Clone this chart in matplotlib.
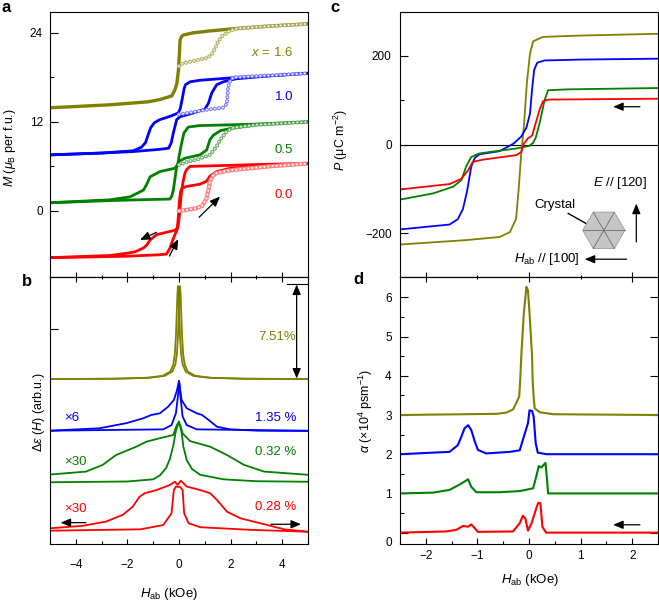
import numpy as np
import matplotlib
matplotlib.use("Agg")
import matplotlib.pyplot as plt
from matplotlib.patches import RegularPolygon

plt.rcParams['font.family'] = ['Liberation Sans', 'DejaVu Sans']
plt.rcParams['font.size'] = 9
plt.rcParams['mathtext.fontset'] = 'custom'
plt.rcParams['mathtext.rm'] = 'Liberation Sans'
plt.rcParams['mathtext.it'] = 'Liberation Sans:italic'
plt.rcParams['mathtext.bf'] = 'Liberation Sans:bold'
plt.rcParams['lines.scale_dashes'] = False
plt.rcParams['axes.linewidth'] = 0.8

olive, blue, green, red = '#808000', '#0000ff', '#008000', '#ff0000'

# ---- panel a : M(H) loops (kOe, muB per f.u., curves offset) ----
a_olive_h = [-5, -2.67, -1.2, -0.74, -0.28, -0.16, -0.08, -0.02, 0.02, 0.04, 0.1, 0.17, 0.56, 1.2, 2.3, 3.5, 5]
a_olive_m = [13.9, 14.3, 14.7, 15.0, 15.5, 16.3, 17.2, 19.0, 21.5, 23.0, 23.5, 23.7, 24.0, 24.25, 24.6, 24.9, 25.2]
a_olive_vh = [0, 0.1, 0.43, 0.8, 1.07, 1.25, 1.4, 1.5, 1.65, 1.98, 2.3, 3.5, 5]
a_olive_vm = [19.5, 19.8, 20.1, 20.4, 20.6, 21.0, 21.9, 22.7, 23.5, 24.3, 24.6, 24.9, 25.2]

a_blue_up_h = [-5, -3, -1.77, -0.74, -0.4, -0.3, -0.22, -0.09, 0.04, 0.56, 1.0, 1.14, 1.27, 1.46, 1.72, 2.2, 3.5, 5]
a_blue_up_m = [7.55, 7.8, 8.0, 8.3, 8.45, 9.2, 10.5, 12.3, 12.7, 13.2, 13.7, 14.5, 15.9, 17.0, 17.4, 17.8, 18.2, 18.55]
a_blue_dn_h = [5, 3.5, 2.3, 0.8, 0.43, 0.25, 0.2, 0.12, 0.05, -0.03, -0.3, -0.74, -0.95, -1.1, -1.2, -1.3, -1.45, -1.77, -3, -5]
a_blue_dn_m = [18.55, 18.2, 18.0, 17.6, 17.4, 17.0, 16.5, 15.0, 13.8, 13.2, 12.8, 12.3, 11.9, 11.2, 10.2, 9.2, 8.6, 8.1, 7.8, 7.55]
a_blue_vh = [0, 0.5, 1.2, 1.7, 1.85, 1.88, 1.9, 1.95, 2.1, 3.5, 5]
a_blue_vm = [13.0, 13.3, 13.7, 13.9, 14.4, 15.5, 16.5, 17.3, 18.0, 18.25, 18.55]

a_green_up_h = [-5, -2.67, -1.0, -0.35, -0.28, -0.22, -0.15, -0.09, 0.0, 0.23, 0.81, 1.07, 1.2, 1.33, 1.6, 1.98, 3, 5]
a_green_up_m = [1.1, 1.4, 1.55, 1.6, 2.0, 2.8, 4.5, 6.0, 6.7, 7.1, 7.55, 8.2, 9.6, 10.2, 10.8, 11.1, 11.6, 12.0]
a_green_dn_h = [5, 3, 2, 0.81, 0.36, 0.19, 0.1, 0.0, -0.05, -0.16, -0.74, -1.12, -1.25, -1.38, -1.9, -2.67, -5]
a_green_dn_m = [12.0, 11.7, 11.6, 11.5, 11.3, 10.5, 9.1, 7.3, 6.2, 5.75, 5.3, 4.6, 3.6, 2.8, 1.9, 1.5, 1.1]
a_green_vh = [0, 0.3, 0.68, 1.2, 1.35, 1.46, 1.6, 1.85, 2.1, 3, 5]
a_green_vm = [6.2, 6.6, 6.9, 7.55, 8.2, 8.7, 9.6, 10.7, 11.2, 11.6, 12.0]

a_red_up_h = [-5, -2, -0.74, -0.48, -0.35, -0.25, -0.16, -0.08, -0.03, 0.02, 0.06, 0.12, 0.3, 0.81, 1.07, 1.2, 1.46, 1.98, 3, 5]
a_red_up_m = [-6.3, -6.1, -5.9, -5.8, -5.0, -4.0, -3.2, -2.6, -1.0, 1.5, 2.6, 3.1, 3.3, 3.6, 4.0, 4.7, 5.3, 5.75, 6.0, 6.4]
a_red_dn_h = [5, 3, 1.0, 0.43, 0.3, 0.23, 0.15, 0.08, 0.03, -0.01, -0.05, -0.16, -0.87, -1.12, -1.25, -1.38, -1.7, -2.03, -2.67, -5]
a_red_dn_m = [6.4, 6.25, 6.05, 6.0, 5.6, 5.1, 3.8, 2.0, 0.0, -1.5, -2.3, -2.6, -3.2, -3.9, -4.6, -5.0, -5.5, -5.7, -6.0, -6.3]
a_red_vh = [0, 0.3, 0.68, 0.9, 1.07, 1.14, 1.2, 1.3, 1.46, 1.85, 2.3, 3.5, 5]
a_red_vm = [0.0, 0.15, 0.36, 0.7, 1.7, 2.8, 4.0, 4.7, 5.1, 5.4, 5.6, 6.0, 6.4]

a_labels = ['$x$ = 1.6', '1.0', '0.5', '0.0']
a_label_m = [21.3, 15.4, 8.2, 2.2]

# ---- panel b : dielectric change (arb. u., offset) ----
b_olive1_h = [-5, -2.54, -1.24, -0.64, -0.34, -0.22, -0.16, -0.12, -0.09, -0.06, -0.04, -0.02, 0.01, 0.04, 0.08, 0.14, 0.26, 0.56, 1.16, 2.46, 5]
b_olive2_h = [-5, -2.46, -1.16, -0.56, -0.26, -0.14, -0.08, -0.04, -0.01, 0.02, 0.04, 0.06, 0.09, 0.12, 0.16, 0.22, 0.34, 0.64, 1.24, 2.54, 5]
b_olive_v = [61.8, 61.95, 62.3, 63.0, 64.6, 67.3, 71.3, 77.8, 85.8, 93.8, 96.6, 93.8, 85.8, 77.8, 71.3, 67.3, 64.6, 63.0, 62.3, 61.95, 61.8]

b_blue1_h = [-5, -3.09, -2.05, -1.4, -1.07, -0.74, -0.42, -0.2, -0.08, 0.0, 0.1, 0.3, 0.69, 0.89, 1.15, 1.47, 1.99, 3.04, 5]
b_blue1_v = [42.5, 43.4, 45.3, 47.1, 48.4, 49.0, 51.5, 54.0, 57.5, 61.2, 54.0, 50.9, 49.0, 48.4, 46.5, 44.0, 43.0, 42.5, 42.4]
b_blue2_h = [-5, -0.61, -0.29, -0.12, -0.04, 0.01, 0.07, 0.14, 0.3, 0.69, 5]
b_blue2_v = [42.5, 43.0, 44.6, 49.0, 55.5, 60.5, 54.0, 47.8, 44.6, 43.0, 42.5]

b_green1_h = [-5, -3.61, -2.96, -2.44, -1.66, -1.26, -0.74, -0.22, -0.09, -0.02, 0.05, 0.14, 0.43, 1.21, 1.86, 2.52, 3.3, 5]
b_green1_v = [26.1, 27.2, 29.7, 33.4, 36.5, 38.4, 39.7, 40.9, 44.5, 45.5, 44.5, 41.5, 38.6, 36.5, 33.4, 29.7, 27.2, 26.0]
b_green2_h = [-5, -2, -1, -0.74, -0.5, -0.35, -0.22, -0.12, 0.0, 0.1, 0.17, 0.3, 0.5, 0.82, 1.73, 3, 5]
b_green2_v = [23.2, 23.5, 24.3, 25.8, 28.5, 32.0, 37.0, 42.5, 46.0, 42.0, 36.5, 31.5, 28.2, 26.0, 24.3, 23.6, 23.4]

b_red1_h = [-5, -3.74, -2.83, -2.18, -1.79, -1.53, -1.33, -0.87, -0.35, -0.16, -0.05, 0.07, 0.3, 0.82, 1.21, 1.47, 1.86, 2.39, 3.43, 4.08, 5]
b_red1_v = [6.0, 6.9, 8.5, 11.0, 14.1, 17.8, 19.1, 20.3, 22.2, 23.4, 22.2, 23.8, 21.6, 20.3, 19.1, 16.6, 12.2, 9.7, 7.2, 5.6, 4.7]
b_red2_h = [-5, -1.5, -0.61, -0.29, -0.2, -0.12, 0.05, 0.14, 0.2, 0.37, 0.82, 2.78, 5]
b_red2_v = [5.1, 5.6, 7.2, 11.6, 20.3, 21.6, 21.4, 20.3, 11.6, 7.9, 6.4, 5.4, 4.7]

b_left_labels = ['\u00d76', '\u00d730', '\u00d730']
b_left_v = [47.2, 30.9, 13.1]
b_right_labels = ['7.51%', '1.35 %', '0.32 %', '0.28 %']
b_right_v = [77.6, 47.1, 34.7, 14.1]

# ---- panel c : P(H) ----
c_olive_h = [-2.5, -1.22, -0.57, -0.37, -0.25, -0.2, -0.15, -0.1, -0.04, 0.02, 0.08, 0.27, 1.0, 2.5]
c_olive_p = [-225, -215, -208, -197, -167, -100, -20, 40, 140, 205, 232, 242, 245, 249]
c_blue_h = [-2.5, -1.54, -1.38, -1.28, -1.2, -1.12, -1.05, -0.96, -0.57, -0.3, -0.15, -0.05, 0.02, 0.06, 0.1, 0.16, 0.3, 1.0, 2.5]
c_blue_p = [-191, -180, -168, -145, -105, -50, -30, -22, -15, 2, 18, 38, 70, 125, 168, 184, 189, 191, 193]
c_green_h = [-2.5, -1.86, -1.47, -1.31, -1.22, -1.12, -0.96, -0.25, 0.01, 0.08, 0.13, 0.21, 0.3, 0.37, 0.74, 2.5]
c_green_p = [-124, -110, -95, -80, -50, -28, -20, -9, -3, 4, 15, 50, 99, 122, 124, 127]
c_red_h = [-2.5, -1.54, -1.31, -1.18, -1.09, -0.89, -0.25, -0.15, -0.1, -0.02, 0.06, 0.11, 0.21, 0.27, 0.37, 2.5]
c_red_p = [-101, -89, -77, -58, -39, -34, -24, -17, 2, 14, 20, 40, 80, 97, 101, 103]

# ---- panel d : alpha(H), offset by 1 ----
d_olive_h = [-2.5, -0.63, -0.44, -0.31, -0.25, -0.19, -0.17, -0.15, -0.1, -0.05, -0.02, 0.01, 0.06, 0.07, 0.09, 0.11, 0.21, 0.47, 2.5]
d_olive_a = [3.0, 3.03, 3.06, 3.14, 3.3, 3.47, 3.9, 4.5, 5.6, 6.27, 6.18, 5.6, 4.5, 3.9, 3.47, 3.17, 3.07, 3.02, 3.0]
d_blue_h = [-2.5, -1.54, -1.38, -1.31, -1.25, -1.18, -1.12, -1.05, -0.99, -0.83, -0.37, -0.18, -0.12, -0.06, -0.02, 0.01, 0.06, 0.09, 0.13, 0.17, 0.34, 2.5]
d_blue_a = [2.0, 2.06, 2.23, 2.45, 2.66, 2.74, 2.62, 2.32, 2.11, 2.02, 2.06, 2.1, 2.36, 2.62, 2.79, 3.12, 3.1, 2.96, 2.28, 2.04, 2.0, 2.0]
d_green_h = [-2.5, -1.86, -1.54, -1.34, -1.18, -1.12, -1.02, -0.57, -0.18, 0.08, 0.14, 0.19, 0.24, 0.27, 0.32, 0.35, 0.37, 2.5]
d_green_a = [1.0, 1.02, 1.09, 1.23, 1.36, 1.17, 1.03, 1.03, 1.06, 1.13, 1.43, 1.70, 1.66, 1.71, 1.78, 1.34, 1.0, 1.0]
d_red_h = [-2.5, -1.61, -1.41, -1.28, -1.18, -1.12, -1.05, -0.99, -0.31, -0.18, -0.12, -0.07, -0.02, 0.05, 0.14, 0.18, 0.22, 0.26, 0.33, 2.5]
d_red_a = [0.0, 0.03, 0.07, 0.17, 0.15, 0.21, 0.11, 0.02, 0.03, 0.24, 0.43, 0.36, 0.05, 0.24, 0.62, 0.76, 0.75, 0.15, 0.0, 0.0]

W, H = 659, 602
fig = plt.figure(figsize=(W / 100, H / 100), dpi=100)


def px_axes(left, top, right, bottom):
    return fig.add_axes([left / W, 1 - bottom / H, (right - left) / W, (bottom - top) / H])


def rings(ax, x, y, color, cap='round'):
    ax.plot(x, y, color=color, lw=3.0, ls=(0, (0.01, 2.9)), dash_capstyle=cap, zorder=4)
    ax.plot(x, y, color='white', lw=1.3, ls=(0, (0.01, 2.9)), dash_capstyle=cap, zorder=5)


def arrow(ax, x0, y0, x1, y1, style='-|>'):
    ax.annotate('', xy=(x1, y1), xytext=(x0, y0),
                arrowprops=dict(arrowstyle=style + ',head_length=0.6,head_width=0.25',
                                color='k', lw=0.9, shrinkA=0, shrinkB=0, mutation_scale=10))


ax_a = px_axes(50, 12, 308, 277)
ax_b = px_axes(50, 277, 308, 544.3)
ax_c = px_axes(400, 12, 658, 277)
ax_d = px_axes(400, 277, 658, 544)

# panel a
lw_a = 2.0
ax_a.plot(a_olive_h, a_olive_m, color=olive, lw=lw_a + 0.4)
ax_a.plot(a_blue_up_h, a_blue_up_m, color=blue, lw=lw_a)
ax_a.plot(a_blue_dn_h, a_blue_dn_m, color=blue, lw=lw_a)
ax_a.plot(a_green_up_h, a_green_up_m, color=green, lw=lw_a)
ax_a.plot(a_green_dn_h, a_green_dn_m, color=green, lw=lw_a)
ax_a.plot(a_red_up_h, a_red_up_m, color=red, lw=lw_a)
ax_a.plot(a_red_dn_h, a_red_dn_m, color=red, lw=lw_a)
rings(ax_a, a_olive_vh, a_olive_vm, '#b4b46a')
rings(ax_a, a_blue_vh, a_blue_vm, '#8080ff')
rings(ax_a, a_green_vh, a_green_vm, '#6cae6c')
rings(ax_a, a_red_vh, a_red_vm, '#ff8080', cap='projecting')
for lab, m, col in zip(a_labels, a_label_m, [olive, blue, green, red]):
    ax_a.text(4.42, m, lab, color=col, ha='right', va='center', fontsize=9.5)
arrow(ax_a, -0.87, -2.88, -1.51, -3.9)
arrow(ax_a, -0.37, -6.07, -0.03, -3.8)
arrow(ax_a, 0.78, -0.85, 1.59, 1.93)
ax_a.set_xlim(-5, 5)
ax_a.set_ylim(-8.9, 26.8)
ax_a.set_yticks([0, 12, 24])
ax_a.set_yticks([6, 18], minor=True)
ax_a.tick_params(axis='x', which='both', bottom=False, labelbottom=False)
ax_a.tick_params(axis='y', which='both', direction='in', width=0.8, pad=5, labelsize=8.5)
ax_a.tick_params(axis='y', which='major', length=5.8)
ax_a.tick_params(axis='y', which='minor', length=3)
ax_a.set_ylabel(r'$M$ ($\mu_{\rm B}$ per f.u.)', fontsize=9)
ax_a.yaxis.set_label_coords(-0.125, 0.49)

# panel b
lw_b = 1.3
ax_b.plot(b_olive1_h, b_olive_v, color=olive, lw=lw_b)
ax_b.plot(b_olive2_h, b_olive_v, color=olive, lw=lw_b)
ax_b.plot(b_blue1_h, b_blue1_v, color=blue, lw=lw_b)
ax_b.plot(b_blue2_h, b_blue2_v, color=blue, lw=lw_b)
ax_b.plot(b_green1_h, b_green1_v, color=green, lw=lw_b)
ax_b.plot(b_green2_h, b_green2_v, color=green, lw=lw_b)
ax_b.plot(b_red1_h, b_red1_v, color=red, lw=lw_b)
ax_b.plot(b_red2_h, b_red2_v, color=red, lw=lw_b)
for lab, v, col in zip(b_left_labels, b_left_v, [blue, green, red]):
    ax_b.text(-4.46, v, lab, color=col, ha='left', va='center', fontsize=9.5)
for lab, v, col in zip(b_right_labels, b_right_v, [olive, blue, green, red]):
    ax_b.text(4.54, v, lab, color=col, ha='right', va='center', fontsize=9.5)
ax_b.plot([4.2, 5.0], [97.2, 97.2], color='k', lw=0.8)
arrow(ax_b, 4.56, 97.2, 4.56, 62.0, style='<|-|>')
arrow(ax_b, -3.61, 8.1, -4.59, 8.1)
arrow(ax_b, 3.56, 7.5, 4.73, 7.5)
ax_b.set_xlim(-5, 5)
ax_b.set_ylim(0, 100)
ax_b.set_xticks([-4, -2, 0, 2, 4])
ax_b.set_xticks([-5, -3, -1, 1, 3, 5], minor=True)
ax_b.set_xticklabels(['\u22124', '\u22122', '0', '2', '4'])
ax_b.set_yticks([80.5])
ax_b.set_yticklabels([])
ax_b.tick_params(axis='x', which='both', direction='in', width=0.8, pad=10.5, labelsize=8.5)
ax_b.tick_params(axis='x', which='major', length=3.8)
ax_b.tick_params(axis='x', which='minor', length=2.5)
ax_b.tick_params(axis='y', direction='in', length=5.8, width=0.8)
b_top = ax_b.secondary_xaxis('top')
b_top.set_xticks([-4, -2, 0, 2, 4])
b_top.set_xticks([-5, -3, -1, 1, 3, 5], minor=True)
b_top.tick_params(which='both', direction='inout', width=0.8, labeltop=False)
b_top.tick_params(which='major', length=7)
b_top.tick_params(which='minor', length=3.5)
ax_b.set_ylabel(r'$\Delta\varepsilon$ ($H$) (arb.u.)', fontsize=9)
ax_b.yaxis.set_label_coords(-0.012, 0.495)
ax_b.set_xlabel(r'$H_{\rm ab}$ (kOe)', fontsize=9.5)
ax_b.xaxis.set_label_coords(0.461, -0.155)

# panel c
lw_c = 1.3
ax_c.axhline(0, color='k', lw=0.8, zorder=1)
ax_c.plot(c_olive_h, c_olive_p, color=olive, lw=lw_c)
ax_c.plot(c_blue_h, c_blue_p, color=blue, lw=lw_c)
ax_c.plot(c_green_h, c_green_p, color=green, lw=lw_c)
ax_c.plot(c_red_h, c_red_p, color=red, lw=lw_c)
arrow(ax_c, 2.15, 85, 1.63, 85)
arrow(ax_c, 2.08, -219, 2.08, -133)
arrow(ax_c, 1.89, -258, 1.08, -258)
ax_c.text(2.28, -86, '$E$ // [120]', ha='right', va='center', fontsize=9.5)
ax_c.text(0.51, -137, 'Crystal', ha='center', va='center', fontsize=9.5)
ax_c.text(0.98, -258, r'$H_{\rm ab}$ // [100]', ha='right', va='center', fontsize=9.5)
ax_c.plot([0.76, 1.11], [-155, -178], color='k', lw=1.0)
hex_ax = ax_c.inset_axes([1.02, -236, 0.86, 86], transform=ax_c.transData)
hex_ax.set_xlim(-1.05, 1.05)
hex_ax.set_ylim(-0.91, 0.91)
hex_ax.axis('off')
hex_ax.add_patch(RegularPolygon((0, 0), 6, radius=1, orientation=np.pi / 6,
                                facecolor='#c6c6c6', edgecolor='#9a9a9a', lw=0.6))
for sx, sy in [(1, 0), (0.5, 0.866), (-0.5, 0.866)]:
    hex_ax.plot([-sx, sx], [-sy, sy], color='#6a6a6a', lw=0.6)
ax_c.set_xlim(-2.5, 2.5)
ax_c.set_ylim(-298, 298)
ax_c.set_yticks([-200, 0, 200])
ax_c.set_yticklabels(['\u2212200', '0', '200'])
ax_c.set_yticks([-100, 100], minor=True)
ax_c.tick_params(axis='x', which='both', bottom=False, labelbottom=False)
ax_c.tick_params(axis='y', which='both', direction='in', width=0.8, pad=6, labelsize=8.5)
ax_c.tick_params(axis='y', which='major', length=5.8)
ax_c.tick_params(axis='y', which='minor', length=3)
ax_c.set_ylabel(r'$P$ (μC m$^{-2}$)', fontsize=9)
ax_c.yaxis.set_label_coords(-0.194, 0.517)

# panel d
lw_d = 1.5
ax_d.plot(d_olive_h, d_olive_a, color=olive, lw=lw_d)
ax_d.plot(d_blue_h, d_blue_a, color=blue, lw=lw_d)
ax_d.plot(d_green_h, d_green_a, color=green, lw=lw_d)
ax_d.plot(d_red_h, d_red_a, color=red, lw=lw_d)
arrow(ax_d, 2.15, 0.2, 1.63, 0.2)
ax_d.set_xlim(-2.5, 2.5)
ax_d.set_ylim(-0.29, 6.52)
ax_d.set_yticks([0, 1, 2, 3, 4, 5, 6])
ax_d.set_yticklabels(['', '1', '2', '3', '4', '5', '6'])
ax_d.set_yticks([0.5, 1.5, 2.5, 3.5, 4.5, 5.5], minor=True)
ax_d.annotate('0', xy=(0, 0), xycoords=('axes fraction', 'data'), xytext=(-6, -7.6),
              textcoords='offset points', ha='right', va='center', fontsize=8.5)
ax_d.set_xticks([-2, -1, 0, 1, 2])
ax_d.set_xticklabels(['\u22122', '\u22121', '0', '1', '2'])
ax_d.set_xticks([-2.5, -1.5, -0.5, 0.5, 1.5, 2.5], minor=True)
ax_d.tick_params(which='both', direction='in', width=0.8, labelsize=8.5, right=True)
ax_d.tick_params(axis='y', which='major', length=5.8, pad=6)
ax_d.tick_params(axis='y', which='minor', length=3, right=False)
ax_d.tick_params(axis='x', which='major', length=4, pad=4.5)
ax_d.tick_params(axis='x', which='minor', length=2.5)
d_top = ax_d.secondary_xaxis('top')
d_top.set_xticks([-2, 0, 2])
d_top.set_xticks([-1, 1], minor=True)
d_top.tick_params(which='both', direction='inout', width=0.8, labeltop=False)
d_top.tick_params(which='major', length=7)
d_top.tick_params(which='minor', length=3.5)
ax_d.set_ylabel(r'$\alpha$ (×10$^4$ psm$^{-1}$)', fontsize=9)
ax_d.yaxis.set_label_coords(-0.097, 0.498)
ax_d.set_xlabel(r'$H_{\rm ab}$ (kOe)', fontsize=9.5)
ax_d.xaxis.set_label_coords(0.504, -0.105)

# panel letters
for letter, px, py in [('a', 6, 8), ('b', 27, 281), ('c', 335, 8), ('d', 358, 280)]:
    fig.text(px / W, 1 - py / H, letter, fontsize=12, fontweight='bold', ha='center', va='center')

fig.savefig('out.png', dpi=100)
